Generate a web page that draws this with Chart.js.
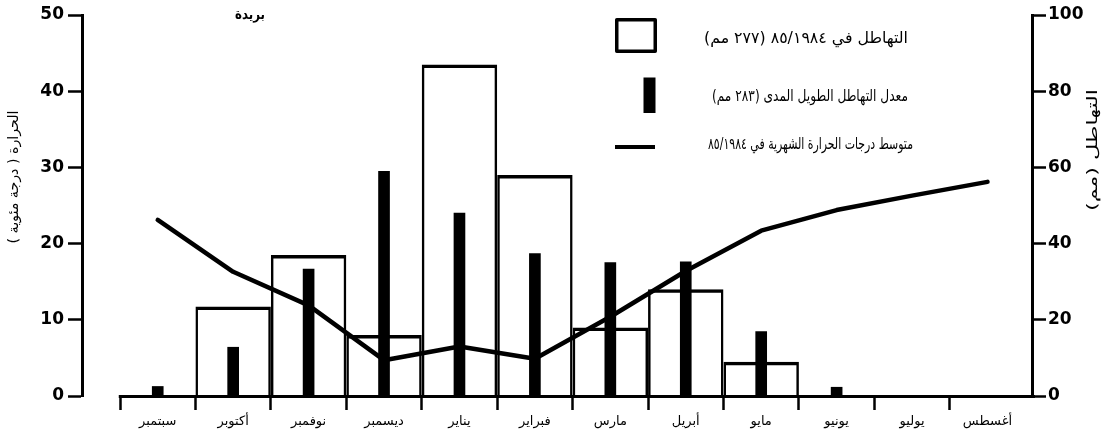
<!DOCTYPE html>
<html lang="ar">
<head>
<meta charset="utf-8">
<title>بريدة</title>
<script src="https://cdn.jsdelivr.net/npm/chart.js@4.4.1/dist/chart.umd.min.js"></script>
<style>
  html, body { margin: 0; padding: 0; background: #fff; }
  canvas { display: block; }
</style>
</head>
<body>
<canvas id="chart" width="1112" height="439" dir="rtl"></canvas>
<script>
// Monthly climate of Buraydah, hydrological year September -> August
const months = ['سبتمبر', 'أكتوبر', 'نوفمبر', 'ديسمبر', 'يناير', 'فبراير', 'مارس', 'أبريل', 'مايو', 'يونيو', 'يوليو', 'أغسطس'];
// Rainfall 1984/85 (mm, right axis)
const rain1984 = [0, 23.5, 37, 16, 87, 58, 18, 28, 9, 0, 0, 0];
// Long-term mean rainfall (mm, right axis)
const rainLongTerm = [2.5, 12.8, 33.3, 59, 48, 37.4, 35, 35.2, 16.9, 2.3, 0, 0];
// Mean monthly temperature 1984/85 (°C, left axis)
const temp1984 = [23.1, 16.3, 11.9, 4.7, 6.5, 4.9, 10.4, 16.4, 21.7, 24.4, 26.3, 28.1];
// Axis tick values
const tempTicks = [0, 10, 20, 30, 40, 50];
const rainTicks = [0, 20, 40, 60, 80, 100];

const titleText = 'بريدة';
const tempAxisTitle = 'الحرارة ( درجة مئوية )';
const rainAxisTitle = 'التهاطل (مم)';
const legendRain1984 = 'التهاطل في ٨٥/١٩٨٤ (٢٧٧ مم)';
const legendRainMean = 'معدل التهاطل الطويل المدى (٢٨٣ مم)';
const legendTemp = 'متوسط درجات الحرارة الشهرية في ٨٥/١٩٨٤';

const AR_FONT = '"DejaVu Sans", sans-serif';
const NUM_FONT = { family: '"DejaVu Sans", sans-serif', size: 17, weight: 'bold' };

const toPoints = arr => arr.map((v, i) => ({ x: i, y: v }));

// Month boundaries (half steps) carry tick marks, centres carry month names
function monthTicks(scale) {
  const t = [];
  for (let i = 0; i < months.length; i++) {
    t.push({ value: i - 0.5 });
    t.push({ value: i });
  }
  scale.ticks = t;
}

// Draws text centred at (x, y), stretched to a given length
function fitText(ctx, text, x, y, length, font, rotation) {
  ctx.save();
  ctx.font = font;
  ctx.direction = 'rtl';
  ctx.fillStyle = '#000';
  ctx.textAlign = 'center';
  ctx.textBaseline = 'middle';
  ctx.translate(x, y);
  if (rotation) ctx.rotate(rotation);
  const w = ctx.measureText(text).width;
  ctx.scale(length / w, 1);
  ctx.fillText(text, 0, 0);
  ctx.restore();
}

const decorations = {
  id: 'decorations',
  afterDatasetsDraw(chart) {
    const { ctx, chartArea, scales } = chart;
    // horizontal axis line, starting at the first month boundary
    ctx.save();
    ctx.strokeStyle = '#000';
    ctx.lineWidth = 3;
    ctx.beginPath();
    const x0 = scales.x.getPixelForValue(-0.5) - 1.25;
    const yb = chartArea.bottom + 0.5;
    ctx.moveTo(x0, yb);
    ctx.lineTo(chartArea.right + 3, yb);
    ctx.stroke();
    ctx.restore();
  },
  afterDraw(chart) {
    const { ctx } = chart;
    // station name
    fitText(ctx, titleText, 250, 15, 30, 'bold 14px ' + AR_FONT, 0);
    // axis titles, both reading bottom to top
    fitText(ctx, tempAxisTitle, 14, 177, 133, '14px ' + AR_FONT, -Math.PI / 2);
    fitText(ctx, rainAxisTitle, 1093, 150, 122, '14px ' + AR_FONT, -Math.PI / 2);

    // legend
    ctx.save();
    ctx.strokeStyle = '#000';
    ctx.fillStyle = '#000';
    ctx.lineJoin = 'round';
    ctx.lineWidth = 3.5;
    ctx.strokeRect(616.75, 19.75, 38.5, 31.5);
    ctx.fillRect(643.5, 77.5, 12, 35.5);
    ctx.lineWidth = 4;
    ctx.beginPath();
    ctx.moveTo(615, 147);
    ctx.lineTo(655, 147);
    ctx.stroke();
    ctx.restore();
    fitText(ctx, legendRain1984, 806, 39, 204, '16px ' + AR_FONT, 0);
    fitText(ctx, legendRainMean, 810, 97, 196, '16px ' + AR_FONT, 0);
    fitText(ctx, legendTemp, 810.5, 145, 205, '16px ' + AR_FONT, 0);
  }
};

new Chart(document.getElementById('chart'), {
  type: 'bar',
  data: {
    datasets: [
      {
        type: 'line',
        label: legendTemp,
        data: toPoints(temp1984),
        yAxisID: 'y',
        borderColor: '#000',
        borderWidth: 4.5,
        pointRadius: 0,
        tension: 0,
        borderCapStyle: 'round',
        borderJoinStyle: 'round',
        order: 0
      },
      {
        type: 'bar',
        label: legendRainMean,
        data: toPoints(rainLongTerm),
        yAxisID: 'y1',
        backgroundColor: '#000',
        barThickness: 11,
        grouped: false,
        order: 1
      },
      {
        type: 'bar',
        label: legendRain1984,
        data: toPoints(rain1984),
        yAxisID: 'y1',
        backgroundColor: 'rgba(255,255,255,0)',
        borderColor: '#000',
        borderWidth: { top: 3.5, left: 2.5, right: 2.5, bottom: 0 },
        // ticks come every half month, so a full-month box spans two tick steps
        categoryPercentage: 1,
        barPercentage: 2,
        grouped: false,
        order: 2
      }
    ]
  },
  options: {
    responsive: false,
    animation: false,
    devicePixelRatio: 1,
    layout: { padding: { top: 15, left: 0, right: 0, bottom: 0 } },
    plugins: { legend: { display: false }, tooltip: { enabled: false } },
    scales: {
      x: {
        type: 'linear',
        position: 'bottom',
        offset: false,
        min: -1.004,
        max: 11.59,
        afterBuildTicks: monthTicks,
        afterFit: s => { s.height = 43; },
        ticks: {
          autoSkip: false,
          maxRotation: 0,
          minRotation: 0,
          padding: 4,
          color: '#000',
          font: { family: AR_FONT, size: 13 },
          callback: v => Number.isInteger(v) ? months[v] : ''
        },
        grid: {
          offset: false,
          drawOnChartArea: false,
          drawTicks: true,
          tickLength: 14,
          tickWidth: 2.5,
          tickColor: c => (c.tick && !Number.isInteger(c.tick.value)) ? '#000' : 'rgba(0,0,0,0)'
        },
        border: { display: false }
      },
      y: {
        position: 'left',
        min: 0,
        max: 50,
        afterBuildTicks: s => { s.ticks = tempTicks.map(v => ({ value: v })); },
        afterFit: s => { s.width = 82; },
        ticks: { color: '#000', padding: 4, font: NUM_FONT },
        grid: { drawOnChartArea: false, tickLength: 14, tickWidth: 2.5, tickColor: '#000' },
        border: { color: '#000', width: 3 }
      },
      y1: {
        position: 'right',
        min: 0,
        max: 100,
        afterBuildTicks: s => { s.ticks = rainTicks.map(v => ({ value: v })); },
        afterFit: s => { s.width = 80; },
        ticks: { color: '#000', padding: 2, font: NUM_FONT },
        grid: { drawOnChartArea: false, tickLength: 14, tickWidth: 2.5, tickColor: '#000' },
        border: { color: '#000', width: 3 }
      }
    }
  },
  plugins: [decorations]
});
</script>
</body>
</html>
